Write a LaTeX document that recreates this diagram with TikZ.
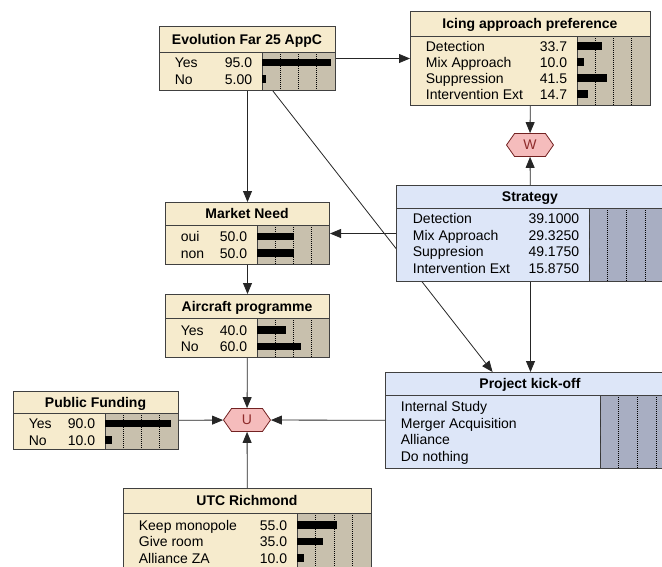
\documentclass[tikz,border=0pt]{standalone}
\usepackage{fontspec}
\setmainfont{Liberation Sans}
\usetikzlibrary{arrows.meta,shapes.symbols,backgrounds}

\definecolor{paper}{HTML}{F6EBCD}
\definecolor{paperbar}{HTML}{C8C0AD}
\definecolor{sky}{HTML}{DDE6F8}
\definecolor{skybar}{HTML}{A8AEC2}
\definecolor{rose}{HTML}{F5BCBC}
\definecolor{wine}{HTML}{8E2B2B}

\tikzset{
  netica/.style={fill=paper, outer sep=0.5pt, inner sep=0pt},
  netica area/.style={fill=paperbar},
  decision/.style={fill=sky, outer sep=0.5pt, inner sep=0pt},
  decision area/.style={fill=skybar},
  boxline/.style={draw=black!75, line width=1pt},
  gridline/.style={black, line width=0.6pt, dash pattern=on 1pt off 1pt},
  ttl/.style={anchor=base, font=\bfseries},
  lbl/.style={anchor=base west},
  val/.style={anchor=base east},
  utility/.style={shape=signal, signal to=east and west, signal pointer angle=110,
    fill=rose, draw=wine!80!black, line width=0.8pt, text=wine,
    minimum width=47pt, minimum height=23pt, inner sep=0pt, outer sep=0.4pt},
  link/.style={draw=black!85, line width=0.8pt, -{Triangle[length=11pt,width=9pt]}},
}

% box: name [style] (left,top) (right,bottom) {separator y} {bar x} {title}
\def\netbox#1[#2](#3,#4)(#5,#6)#7#8#9{%
  \node[#2, minimum width=#5-#3, minimum height=#6-#4, anchor=north west] (#1) at (#3,#4) {};
  \fill[#2 area] (#8,#7) rectangle (#5,#6);
  \foreach \q in {0.25,0.5,0.75}
    \draw[gridline] ({#8+\q*(#5-#8)},#7) -- ({#8+\q*(#5-#8)},#6);
  \draw[boxline] (#3,#7) -- (#5,#7) (#8,#7) -- (#8,#6);
  \node[ttl] at ({(#3+#5)/2},{(#4+#7)/2+5}) {#9};
  \draw[boxline] (#3,#4) rectangle (#5,#6);}

% row: (label x, y) (bar x) {label} {value} {percent}
\def\staterow(#1,#2)(#3)#4#5#6{%
  \node[lbl] at (#1,#2+5) {#4};
  \node[val] at (#3-5,#2+5) {#5};
  \fill (#3,#2-3.75) rectangle ++(#6*0.73,7.5);}

\begin{document}
\fontsize{14}{16}\selectfont
\begin{tikzpicture}[x=1pt,y=-1pt]
  \useasboundingbox (0,0) rectangle (662,566);

  %%%%% nature nodes %%%%%
  \netbox{evo}[netica](159,26)(335,90){52}{262}{Evolution Far 25 AppC}
  \staterow(170,62.5)(262){Yes}{95.0}{95}
  \staterow(170,79)(262){No}{5.00}{5}

  \netbox{icing}[netica](410,11)(650,105){36}{577}{Icing approach preference}
  \staterow(421,46)(577){Detection}{33.7}{33.7}
  \staterow(421,62)(577){Mix Approach}{10.0}{10}
  \staterow(421,78)(577){Suppression}{41.5}{41.5}
  \staterow(421,94)(577){Intervention Ext}{14.7}{14.7}

  \netbox{need}[netica](165,202)(329,264){225}{257}{Market Need}
  \staterow(176,236.5)(257){oui}{50.0}{50}
  \staterow(176,253)(257){non}{50.0}{50}

  \netbox{craft}[netica](165,294)(329,357){318}{257}{Aircraft programme}
  \staterow(176,330)(257){Yes}{40.0}{40}
  \staterow(176,346.5)(257){No}{60.0}{60}

  \netbox{fund}[netica](13,391)(178,449){413}{105}{Public Funding}
  \staterow(24,423.5)(105){Yes}{90.0}{90}
  \staterow(24,440)(105){No}{10.0}{10}

  \netbox{utc}[netica](123,488)(371,580){513}{297}{UTC Richmond}
  \staterow(134,525)(297){Keep monopole}{55.0}{55}
  \staterow(134,541.5)(297){Give room}{35.0}{35}
  \staterow(134,558)(297){Alliance ZA}{10.0}{10}

  %%%%% decision nodes %%%%%
  \netbox{strat}[decision](396,185)(664,281){208}{589}{Strategy}
  \staterow(408,218.5)(589){Detection}{39.1000}{0}
  \staterow(408,235)(589){Mix Approach}{29.3250}{0}
  \staterow(408,251.5)(589){Suppresion}{49.1750}{0}
  \staterow(408,268)(589){Intervention Ext}{15.8750}{0}

  \netbox{proj}[decision](385,372)(675,468){395}{600}{Project kick-off}
  \staterow(396,406.5)(600){Internal Study}{}{0}
  \staterow(396,423)(600){Merger Acquisition}{}{0}
  \staterow(396,439.5)(600){Alliance}{}{0}
  \staterow(396,456.5)(600){Do nothing}{}{0}

  %%%%% utility nodes %%%%%
  \node[utility] (w) at (530,145) {W};
  \node[utility] (u) at (247,420) {U};

  %%%%% links %%%%%
  \begin{pgfonlayer}{background}
    \draw[link] (evo) -- (icing);
    \draw[link] (evo) -- (need);
    \draw[link] (evo) -- (proj);
    \draw[link] (icing) -- (w);
    \draw[link] (strat) -- (w);
    \draw[link] (strat) -- (need);
    \draw[link] (strat) -- (proj);
    \draw[link] (need) -- (craft);
    \draw[link] (craft) -- (u);
    \draw[link] (fund) -- (u);
    \draw[link] (proj) -- (u);
    \draw[link] (utc) -- (u);
  \end{pgfonlayer}
\end{tikzpicture}
\end{document}
